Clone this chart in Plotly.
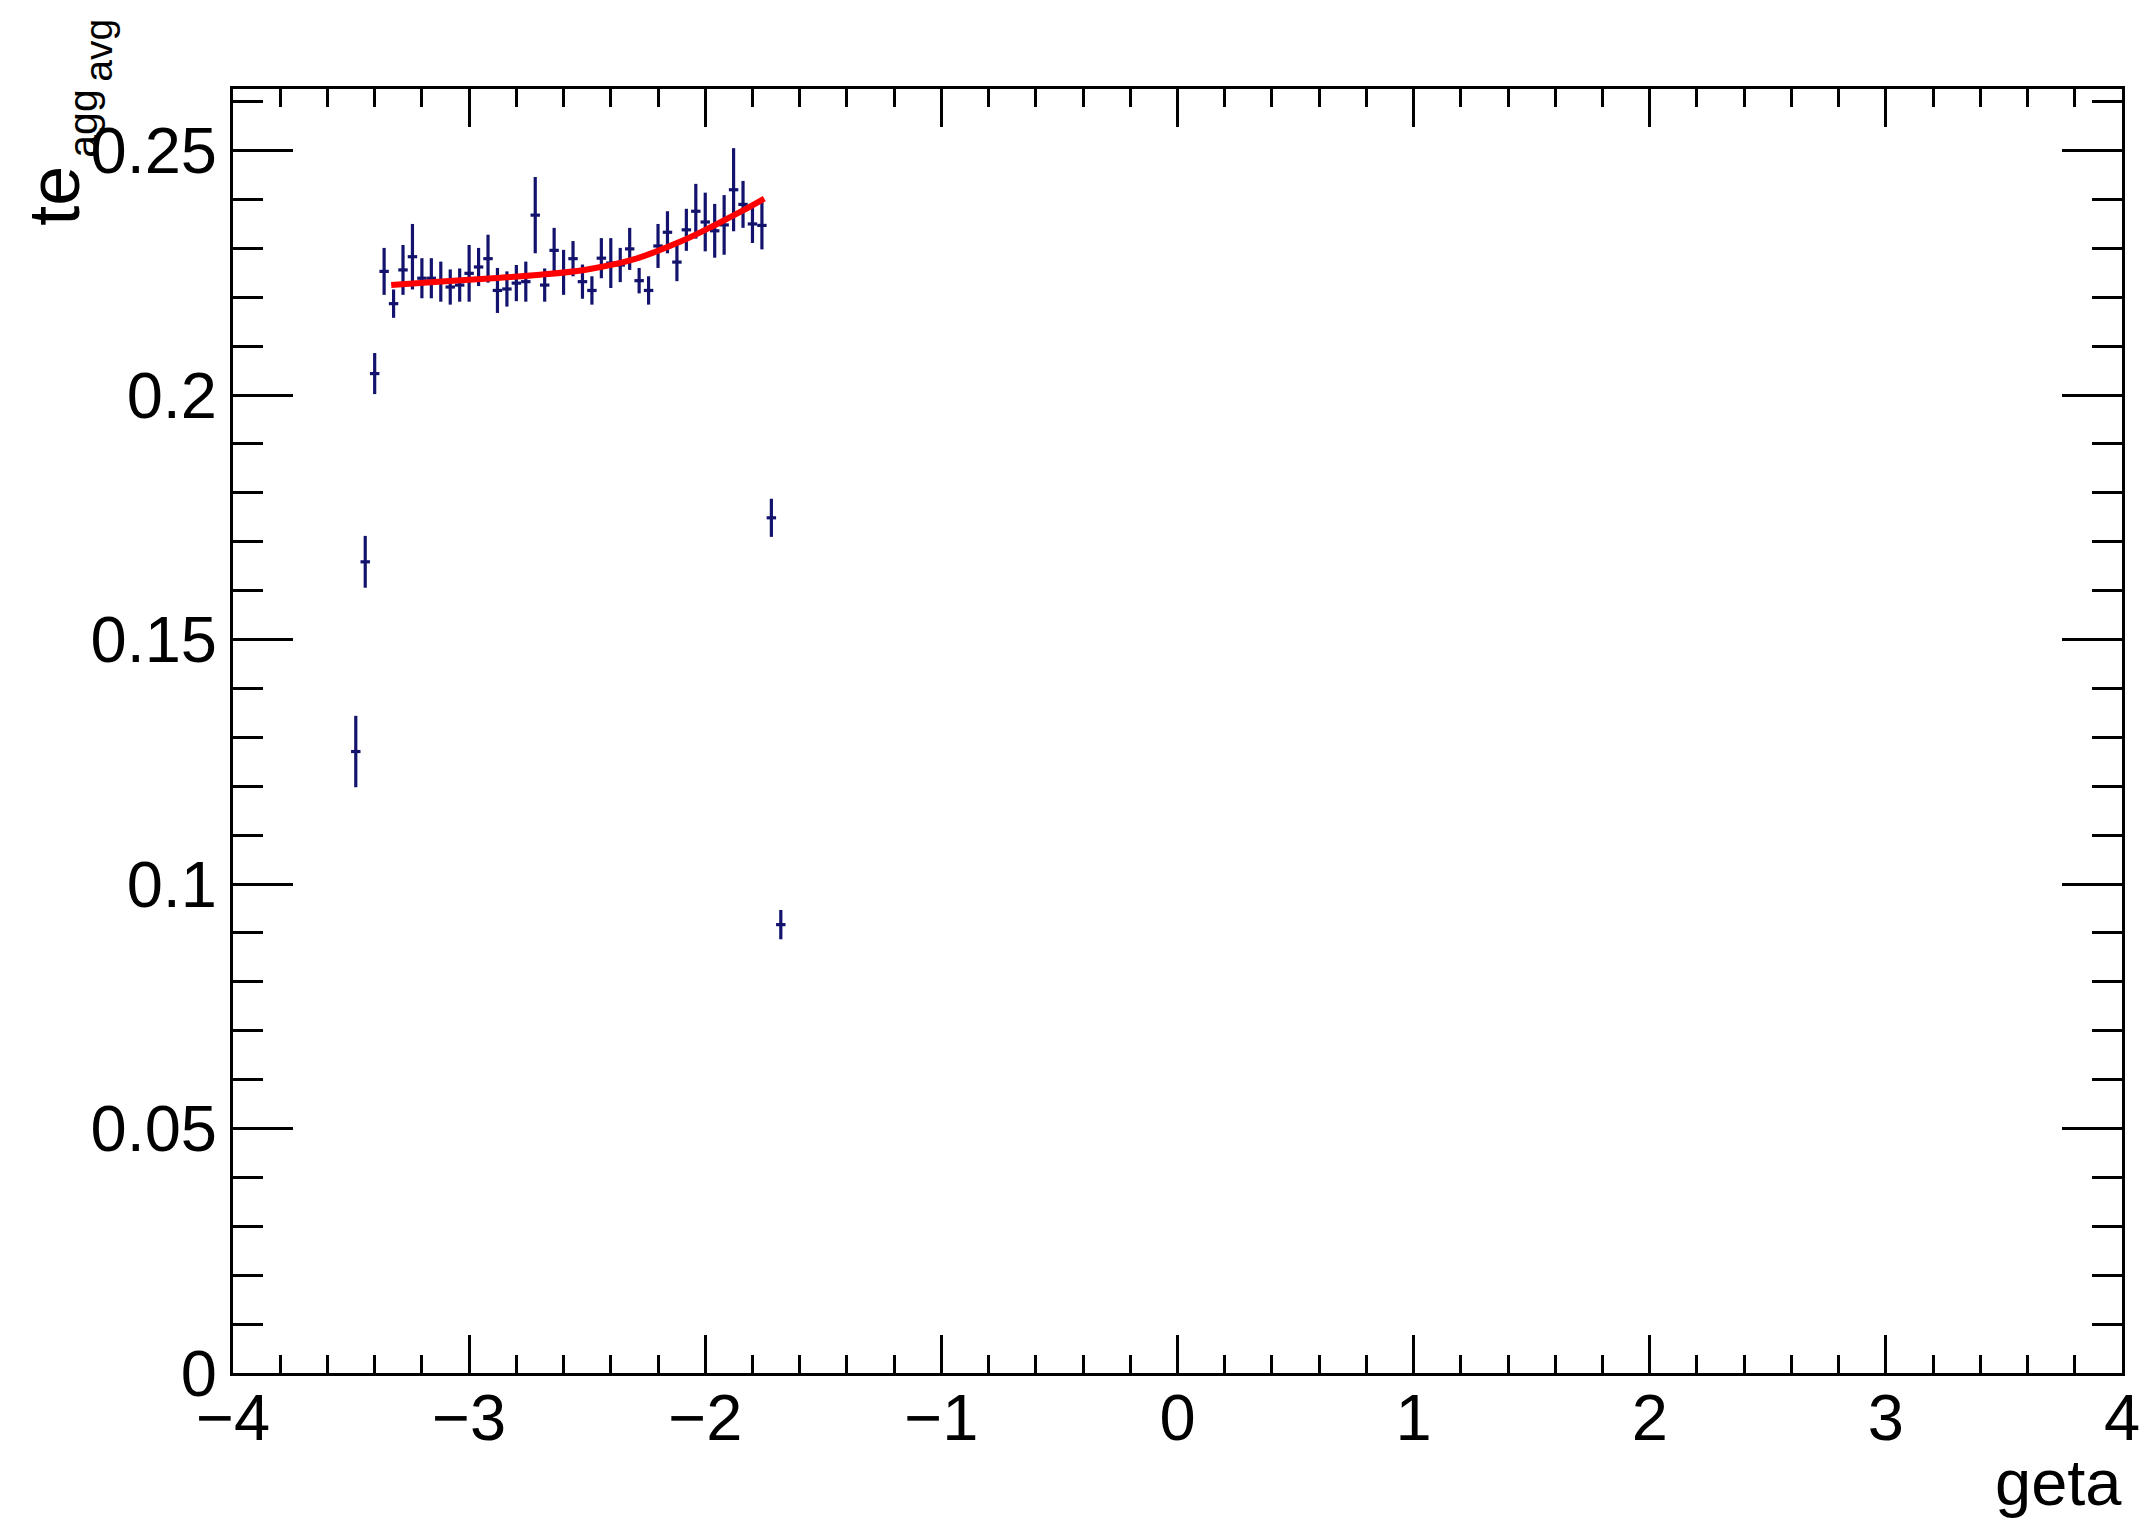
import plotly.graph_objects as go

# ---- data ----
geta = [-3.48, -3.44, -3.40, -3.36, -3.32, -3.28, -3.24, -3.20, -3.16, -3.12,
        -3.08, -3.04, -3.00, -2.96, -2.92, -2.88, -2.84, -2.80, -2.76, -2.72,
        -2.68, -2.64, -2.60, -2.56, -2.52, -2.48, -2.44, -2.40, -2.36, -2.32,
        -2.28, -2.24, -2.20, -2.16, -2.12, -2.08, -2.04, -2.00, -1.96, -1.92,
        -1.88, -1.84, -1.80, -1.76, -1.72, -1.68]
te_avg = [0.1271, 0.1659, 0.2044, 0.2253, 0.2187, 0.2256, 0.2283, 0.2239, 0.2239, 0.2232,
          0.2221, 0.2225, 0.2249, 0.2262, 0.2279, 0.2214, 0.2217, 0.2229, 0.2232, 0.2368,
          0.2225, 0.2296, 0.2251, 0.2279, 0.2232, 0.2214, 0.2280, 0.2270, 0.2266, 0.2299,
          0.2234, 0.2214, 0.2305, 0.2333, 0.2272, 0.2338, 0.2376, 0.2354, 0.2336, 0.2348,
          0.2420, 0.2390, 0.2350, 0.2347, 0.1749, 0.0917]
te_err = [0.0073, 0.0053, 0.0042, 0.0048, 0.0029, 0.0051, 0.0067, 0.0041, 0.0041, 0.0041,
          0.0036, 0.0034, 0.0058, 0.0039, 0.0049, 0.0046, 0.0036, 0.0037, 0.0041, 0.0078,
          0.0034, 0.0046, 0.0046, 0.0036, 0.0035, 0.0029, 0.0041, 0.0051, 0.0035, 0.0043,
          0.0026, 0.0029, 0.0045, 0.0043, 0.0039, 0.0043, 0.0056, 0.0060, 0.0055, 0.0061,
          0.0085, 0.0048, 0.0039, 0.0049, 0.0039, 0.0030]
bin_half_width = 0.02

fit_x = [-3.33, -3.10, -2.90, -2.70, -2.50, -2.30, -2.10, -1.95, -1.85, -1.75]
fit_y = [0.2225, 0.2233, 0.2239, 0.2246, 0.2257, 0.2278, 0.2315, 0.2350, 0.2375, 0.2402]

x_ticks = [-4, -3, -2, -1, 0, 1, 2, 3, 4]
y_ticks = [0, 0.05, 0.1, 0.15, 0.2, 0.25]
y_tick_text = ["0", "0.05", "0.1", "0.15", "0.2", "0.25"]

W, H = 2152, 1518
ML, MR, MT, MB = 233, 21, 89, 145
PW, PH = W - ML - MR, H - MT - MB

FONT = "Liberation Sans, Arial, Helvetica, sans-serif"
BLUE = "#13136e"

fig = go.Figure()
fig.add_trace(go.Scatter(
    x=geta, y=te_avg, mode="markers",
    marker=dict(size=1, color=BLUE),
    error_y=dict(type="data", array=te_err, visible=True, color=BLUE, thickness=3.2, width=0),
    error_x=dict(type="constant", value=bin_half_width, visible=True, color=BLUE, thickness=3.2, width=0),
    showlegend=False, hoverinfo="x+y",
))
fig.add_trace(go.Scatter(
    x=fit_x, y=fit_y, mode="lines",
    line=dict(color="#ff0000", width=6, shape="spline"),
    showlegend=False,
))

axis_common = dict(
    showgrid=False, zeroline=False, showline=True, linecolor="black", linewidth=3,
    mirror="allticks", ticks="inside", tickcolor="black", tickwidth=2.5,
    tickfont=dict(family=FONT, size=65, color="black"),
)
fig.update_xaxes(range=[-4, 4], tickvals=x_ticks, ticklen=38, ticklabelstandoff=-14,
                 minor=dict(dtick=0.2, tick0=-4, ticks="inside", ticklen=18, tickwidth=2.5, tickcolor="black"),
                 **axis_common)
fig.update_yaxes(range=[0, 0.2626], tickvals=y_ticks, ticktext=y_tick_text, ticklen=60,
                 minor=dict(dtick=0.01, tick0=0, ticks="inside", ticklen=30, tickwidth=2.5, tickcolor="black"),
                 **axis_common)

def px_to_paper(xp, yp):
    return (xp - ML) / PW, (H - MB - yp) / PH

annotations = []
gx, gy = px_to_paper(2133, 1482)
annotations.append(dict(text="geta", x=gx, y=gy, xref="paper", yref="paper",
                        xanchor="right", yanchor="middle", showarrow=False,
                        font=dict(family=FONT, size=65, color="black")))
for txt, cx, cy, size in [("te", 53, 196, 72), ("agg", 82, 124, 41), ("avg", 98, 50, 39)]:
    ax, ay = px_to_paper(cx, cy)
    annotations.append(dict(text=txt, x=ax, y=ay, xref="paper", yref="paper",
                            xanchor="center", yanchor="middle", showarrow=False, textangle=-90,
                            font=dict(family=FONT, size=size, color="black")))

fig.update_layout(
    width=W, height=H, margin=dict(l=ML, r=MR, t=MT, b=MB, pad=0),
    paper_bgcolor="white", plot_bgcolor="white",
    annotations=annotations,
)

fig.write_html("out.html", config={"displayModeBar": False},
               post_script="document.body.style.margin='0';document.body.style.overflow='hidden';")
